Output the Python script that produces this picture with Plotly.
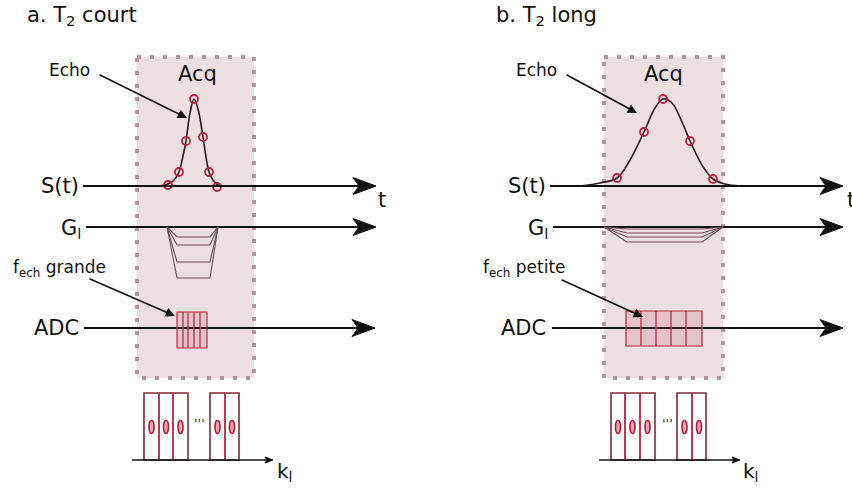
import plotly.graph_objects as go

# ---- diagram geometry (pixel space of the 852x490 figure) ----
W, H = 852, 490
FONT = "DejaVu Sans"
INK = "#111111"
CRIMSON = "#b52441"
MAROON = "#7e2b39"
BOX_FILL = "#ecdfe2"
BOX_EDGE = "#b3959f"
GRAD_COL = "#6b5056"

# rows shared by both panels
S_Y, G_Y, ADC_Y = 186, 227, 328
ACQ_TOP, ACQ_BOT = 57, 378
K_TOP, K_BASE = 393, 460

# ---- panel a : T2 court ----
acq_a = [137, 254]
echo_a_x = [150, 162, 170, 175, 179, 183, 186, 190, 194, 198, 203, 206, 209, 213, 218, 225, 232]
echo_a_y = [186, 185.5, 183, 179, 172, 156, 141, 113, 99, 109, 137, 157, 172, 180, 185, 186, 186]
samp_a_x = [168, 179, 186, 194, 203, 209, 217]
samp_a_y = [185, 172, 141, 99, 137, 172, 187]
grad_a_top = [167, 218]
grad_a_bottom = [177, 210]
grad_a_levels = [237, 245, 262, 278]
adc_a_edges = [177, 183, 188, 194, 200, 207]
adc_a_rows = [312, 348]
k_a_groups = [[144, 159, 173, 188], [210, 225, 239]]
k_a_axis = [132, 273]

# ---- panel b : T2 long ----
acq_b = [604, 723]
echo_b_x = [556, 585, 600, 617, 630, 644, 655, 663, 672, 682, 690, 702, 713, 725, 740, 770]
echo_b_y = [186, 185.5, 183, 178, 160, 132, 108, 99, 103, 122, 141, 165, 179, 184, 186, 186]
samp_b_x = [617, 644, 663, 690, 713]
samp_b_y = [178, 132, 99, 141, 179]
grad_b_top = [604, 723]
grad_b_bottom = [627, 702]
grad_b_levels = [229, 233, 237, 242]
adc_b_edges = [626, 641, 656, 671, 686, 702]
adc_b_rows = [311, 346]
k_b_groups = [[611, 625, 640, 655], [677, 692, 706]]
k_b_axis = [599, 740]

shapes = []
annotations = []


def acq_box(xs):
    shapes.append(dict(type="rect", x0=xs[0], x1=xs[1], y0=ACQ_TOP, y1=ACQ_BOT,
                       fillcolor=BOX_FILL, layer="below",
                       line=dict(color=BOX_EDGE, width=4, dash="4px,9px")))


def big_arrow(x0, x1, y):
    shapes.append(dict(type="line", x0=x0, x1=x1 - 16, y0=y, y1=y,
                       line=dict(color=INK, width=2)))
    shapes.append(dict(type="path",
                       path=f"M {x1},{y} L {x1-23},{y-8.5} L {x1-17},{y} L {x1-23},{y+8.5} Z",
                       fillcolor=INK, line=dict(color=INK, width=1)))


def small_arrow(x0, x1, y):
    shapes.append(dict(type="line", x0=x0, x1=x1 - 5, y0=y, y1=y,
                       line=dict(color=INK, width=1.5)))
    shapes.append(dict(type="path",
                       path=f"M {x1},{y} L {x1-8},{y-3} L {x1-6},{y} L {x1-8},{y+3} Z",
                       fillcolor=INK, line=dict(color=INK, width=1)))


def gradients(top, bottom, levels):
    for lv in levels:
        shapes.append(dict(type="path",
                           path=f"M {top[0]},{G_Y} L {bottom[0]},{lv} L {bottom[1]},{lv} L {top[1]},{G_Y}",
                           line=dict(color=GRAD_COL, width=1.1)))


def adc_box(edges, rows):
    shapes.append(dict(type="rect", x0=edges[0], x1=edges[-1], y0=rows[0], y1=rows[1],
                       fillcolor="rgba(196,90,118,0.22)", line=dict(color=CRIMSON, width=1.2)))
    for e in edges[1:-1]:
        shapes.append(dict(type="line", x0=e, x1=e, y0=rows[0], y1=rows[1],
                           line=dict(color=CRIMSON, width=1.2)))


def kspace(groups, axis):
    for g in groups:
        shapes.append(dict(type="rect", x0=g[0], x1=g[-1], y0=K_TOP, y1=K_BASE,
                           fillcolor="white", line=dict(color=MAROON, width=1.6)))
        for e in g[1:-1]:
            shapes.append(dict(type="line", x0=e, x1=e, y0=K_TOP, y1=K_BASE,
                               line=dict(color=CRIMSON, width=1.8)))
        for left, right in zip(g[:-1], g[1:]):
            cx = (left + right) / 2
            shapes.append(dict(type="circle", x0=cx - 2.5, x1=cx + 2.5, y0=420.5, y1=433.5,
                               fillcolor="#e7a3b0", line=dict(color="#b01c38", width=1.6)))
    small_arrow(axis[0], axis[1], K_BASE)


def text(x, y, s, size, xanchor="center", color=INK):
    annotations.append(dict(x=x, y=y, text=s, showarrow=False, xanchor=xanchor,
                            yanchor="middle", font=dict(family=FONT, size=size, color=color)))


def pointer(x0, y0, x1, y1):
    annotations.append(dict(x=x1, y=y1, ax=x0, ay=y0, axref="x", ayref="y", text="",
                            showarrow=True, arrowhead=2, arrowsize=1.1, arrowwidth=1.7,
                            arrowcolor=INK, standoff=0, startstandoff=0))


fig = go.Figure()

for acq, echo_x, echo_y, sx, sy in [(acq_a, echo_a_x, echo_a_y, samp_a_x, samp_a_y),
                                     (acq_b, echo_b_x, echo_b_y, samp_b_x, samp_b_y)]:
    acq_box(acq)
    fig.add_trace(go.Scatter(x=echo_x, y=echo_y, mode="lines", line_shape="spline",
                             line=dict(color="#2a1c1e", width=1.6), hoverinfo="skip"))
    fig.add_trace(go.Scatter(x=sx, y=sy, mode="markers", hoverinfo="skip",
                             marker=dict(symbol="circle-open", size=8,
                                         line=dict(color=CRIMSON, width=1.8), color=CRIMSON)))

# panel a drawing
big_arrow(83, 376, S_Y)
big_arrow(86, 376, G_Y)
big_arrow(84, 375, ADC_Y)
gradients(grad_a_top, grad_a_bottom, grad_a_levels)
adc_box(adc_a_edges, adc_a_rows)
kspace(k_a_groups, k_a_axis)

# panel b drawing
big_arrow(550, 843, S_Y)
big_arrow(553, 843, G_Y)
big_arrow(552, 843, ADC_Y)
gradients(grad_b_top, grad_b_bottom, grad_b_levels)
adc_box(adc_b_edges, adc_b_rows)
kspace(k_b_groups, k_b_axis)

# texts panel a
text(25, 16, "a. T<sub>2</sub> court", 21, "left")
text(197, 74, "Acq", 21)
text(47, 70, "Echo", 17, "left")
text(81, 186, "S(t)", 21, "right")
text(382, 200, "t", 21)
text(83, 229, "G<sub>l</sub>", 21, "right")
text(11, 268, "f<sub>ech</sub> grande", 17, "left")
text(81, 328, "ADC", 21, "right")
text(275, 472, "k<sub>l</sub>", 20, "left")
text(199, 423, "'''", 13, color="#333333")
pointer(98, 74, 187, 118)
pointer(88, 278, 175, 316)

# texts panel b
text(494, 16, "b. T<sub>2</sub> long", 21, "left")
text(663, 74, "Acq", 21)
text(514, 70, "Echo", 17, "left")
text(548, 186, "S(t)", 21, "right")
text(845, 200, "t", 21, "left")
text(550, 229, "G<sub>l</sub>", 21, "right")
text(481, 268, "f<sub>ech</sub> petite", 17, "left")
text(548, 328, "ADC", 21, "right")
text(741, 472, "k<sub>l</sub>", 20, "left")
text(667, 423, "'''", 13, color="#333333")
pointer(565, 74, 637, 113)
pointer(560, 279, 643, 317)

fig.update_layout(
    width=W, height=H,
    margin=dict(l=0, r=0, t=0, b=0),
    paper_bgcolor="white", plot_bgcolor="white",
    showlegend=False,
    xaxis=dict(range=[0, W], visible=False, fixedrange=True),
    yaxis=dict(range=[H, 0], visible=False, fixedrange=True),
    shapes=shapes,
    annotations=annotations,
)

fig.write_html("out.html", config={"displayModeBar": False},
               post_script="document.body.style.margin='0';document.body.style.overflow='hidden';")
